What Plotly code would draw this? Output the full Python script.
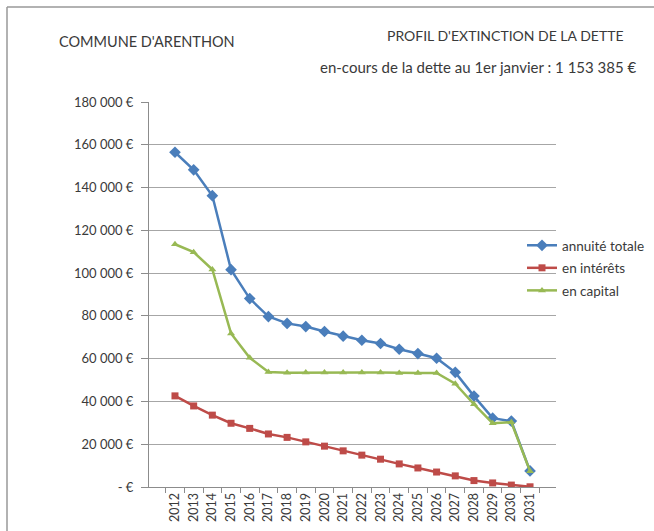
import plotly.graph_objects as go

years = [str(y) for y in range(2012, 2032)]
annuite = [156500, 148300, 136200, 101600, 88100, 79700, 76500, 75000, 72700, 70500,
           68600, 67100, 64400, 62400, 60200, 53600, 42500, 32200, 30800, 7500]
interets = [42600, 37900, 33600, 29800, 27400, 24800, 23200, 21100, 19100, 16900,
            14900, 13000, 10800, 8900, 7000, 5200, 3000, 1900, 900, 100]
capital = [113500, 109800, 101700, 71800, 60400, 53800, 53400, 53500, 53500, 53500,
           53500, 53500, 53300, 53300, 53300, 48300, 38700, 29800, 30300, 7400]

ytickvals = [0, 20000, 40000, 60000, 80000, 100000, 120000, 140000, 160000, 180000]
yticktext = ["- €", "20 000 €", "40 000 €", "60 000 €", "80 000 €", "100 000 €",
             "120 000 €", "140 000 €", "160 000 €", "180 000 €"]

W, H = 654, 531
L, R, T, B = 149, 556, 102, 487


def px(x):
    return (x - L) / (R - L)


def py(y):
    return (B - y) / (B - T)


FONT = "Lato, Open Sans, sans-serif"
TXT = "#3a3a3a"
fig = go.Figure()
series = [
    ("annuité totale", annuite, "#4a7ebb", "diamond", 9),
    ("en intérêts", interets, "#be4b48", "square", 7),
    ("en capital", capital, "#98b954", "triangle-up", 7),
]
for i, (name, vals, col, sym, sz) in enumerate(series):
    fig.add_trace(go.Scatter(
        x=years, y=vals, name=name, mode="lines+markers",
        line=dict(color=col, width=2.5),
        marker=dict(symbol=sym, size=sz, color=col),
        legendgroup=f"g{i}",
    ))

fig.update_layout(
    width=W, height=H,
    margin=dict(l=L, r=W - R, t=T, b=H - B, autoexpand=False),
    paper_bgcolor="white", plot_bgcolor="white",
    font=dict(family=FONT, size=12, color=TXT),
    showlegend=True,
    legend=dict(
        x=px(522), y=py(230), xanchor="left", yanchor="top",
        bgcolor="rgba(255,255,255,0)", traceorder="grouped", tracegroupgap=2,
        font=dict(family=FONT, size=13.5, color=TXT),
        itemwidth=30,
    ),
    xaxis=dict(
        type="category", tickangle=-90, showgrid=False,
        showline=True, linecolor="#8c8c8c", linewidth=1,
        ticks="outside", tickson="boundaries", ticklen=5, tickcolor="#8c8c8c",
        tickfont=dict(size=12.5, color=TXT),
    ),
    yaxis=dict(
        range=[0, 180000], tickvals=ytickvals, ticktext=yticktext,
        showgrid=True, gridcolor="#a6a6a6", gridwidth=1,
        showline=True, linecolor="#8c8c8c", linewidth=1,
        ticks="outside", ticklen=7, tickcolor="#8c8c8c",
        ticklabelstandoff=5,
        zeroline=False, tickfont=dict(size=13, color=TXT),
    ),
)

fig.add_shape(type="line", xref="paper", yref="paper",
              x0=px(7), x1=px(660), y0=py(7), y1=py(7),
              line=dict(color="#999999", width=1.5), layer="above")
fig.add_shape(type="line", xref="paper", yref="paper",
              x0=px(7), x1=px(7), y0=py(540), y1=py(7),
              line=dict(color="#999999", width=1.5), layer="above")

fig.add_annotation(text="COMMUNE D'ARENTHON", xref="paper", yref="paper",
                   x=px(57), y=py(42), xanchor="left", yanchor="middle",
                   showarrow=False, font=dict(size=14.5, color=TXT))
fig.add_annotation(text="PROFIL D'EXTINCTION DE LA DETTE", xref="paper", yref="paper",
                   x=px(626), y=py(35), xanchor="right", yanchor="middle",
                   showarrow=False, font=dict(size=14, color=TXT))
fig.add_annotation(text="en-cours de la dette au 1er janvier : 1 153 385 €", xref="paper", yref="paper",
                   x=px(639), y=py(67), xanchor="right", yanchor="middle",
                   showarrow=False, font=dict(size=15, color=TXT))

fig.write_html("out.html", config={"displayModeBar": False},
               post_script="document.body.style.margin='0';")
